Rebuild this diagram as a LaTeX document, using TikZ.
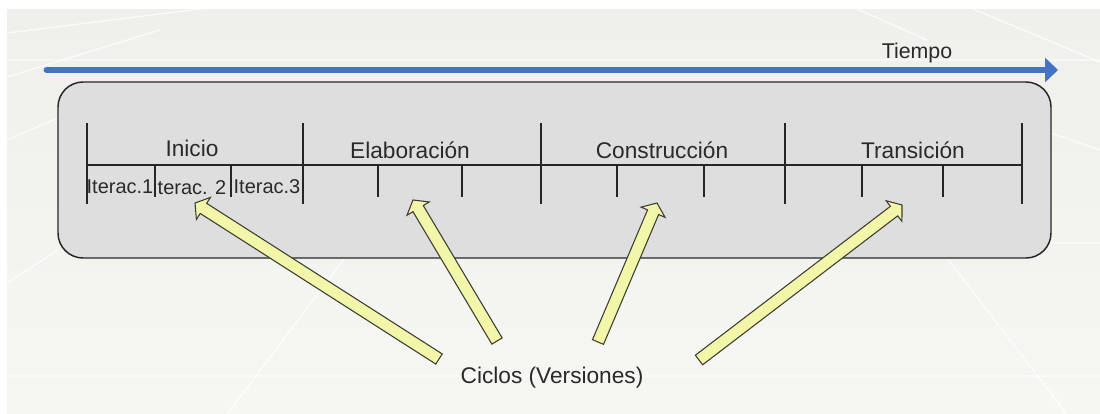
\documentclass[tikz,border=0pt]{standalone}
\usepackage{fontspec}
\setmainfont{Liberation Sans}
\usetikzlibrary{calc,arrows.meta}
\definecolor{bgtop}{RGB}{239,240,235}
\definecolor{bgbot}{RGB}{246,246,243}
\definecolor{boxfill}{RGB}{222,222,222}
\definecolor{timeblue}{RGB}{68,114,196}
\definecolor{arrowfill}{RGB}{242,246,168}
\definecolor{arrowline}{RGB}{60,60,50}
\definecolor{txt}{RGB}{42,42,42}
\tikzset{
  deco/.style={white, line width=1pt, opacity=0.75},
  phaselabel/.style={font=\fontsize{17pt}{19pt}\selectfont, text=txt, anchor=base, inner sep=0pt},
  iterlabel/.style={font=\fontsize{15pt}{17pt}\selectfont, text=txt, anchor=base, inner sep=0pt},
  major/.style={black!85, line width=1.1pt},
  minor/.style={black!85, line width=1.1pt},
  blockarrowstyle/.style={fill=arrowfill, draw=arrowline, line width=0.8pt, line join=miter},
}
\newcommand{\blockarr}[2]{%
  \path ($(#2)!7.5pt!(#1)$) coordinate (#1b);
  \draw[blockarrowstyle]
    ($(#1)!4.5pt!90:(#2)$) -- ($(#1b)!4.5pt!90:(#2)$) -- ($(#1b)!9.75pt!90:(#2)$)
    -- (#2) -- ($(#1b)!9.75pt!-90:(#2)$) -- ($(#1b)!4.5pt!-90:(#2)$)
    -- ($(#1)!4.5pt!-90:(#2)$) -- cycle;
}
\begin{document}
\begin{tikzpicture}[x=0.75pt,y=-0.75pt]
\useasboundingbox (0,0) rectangle (1100,414);
\fill[white] (0,0) rectangle (1100,414);
\shade[top color=bgtop, bottom color=bgbot] (7,9) rectangle (1100,413);
% faint background texture
\draw[deco] (7,33) -- (200,9);
\draw[deco] (7,77) -- (160,30);
\draw[deco] (7,140) -- (58,118);
\draw[deco] (7,283) -- (58,250);
\draw[deco] (228,413) -- (345,258);
\draw[deco] (947,258) -- (1066,413);
\draw[deco] (857,9) -- (927,40);
\draw[deco] (973,9) -- (1100,62);
\draw[deco] (1051,133) -- (1100,150);
\draw[deco, opacity=0.5] (7,60) -- (1100,60);
\draw[deco, opacity=0.5] (7,376) -- (1100,376);
\draw[deco, opacity=0.5] (1051,243) -- (1100,243);

% time arrow
\coordinate (tstart) at (47,70);
\coordinate (tend) at (1058,70);
\draw[timeblue, line width=5.2pt, line cap=round, -{Triangle[length=9.75pt,width=18pt]}] (tstart) -- (tend);
\node[font=\fontsize{16pt}{18pt}\selectfont, text=txt, anchor=base, inner sep=0pt] (tiempo) at (917,58) {Tiempo};

% box
\node[draw=black!85, fill=boxfill, line width=1.1pt, rounded corners=18.75pt,
      minimum width=744.75pt, minimum height=132pt, inner sep=0pt] (box) at (554.5,170) {};

% timeline
\coordinate (l0) at (87,165);
\coordinate (l1) at (1022,165);
\draw[major] (l0) -- (l1);
\foreach \x/\n in {87/a,303/b,541/c,785/d,1022/e}{
  \coordinate (M\n t) at (\x,123);
  \coordinate (M\n b) at (\x,204);
  \draw[major] (M\n t) -- (M\n b);
}
\foreach \x/\n in {155/a,231/b,378/c,462/d,617/e,704/f,862/g,943/h}{
  \coordinate (m\n t) at (\x,165);
  \coordinate (m\n b) at (\x,197);
  \draw[minor] (m\n t) -- (m\n b);
}
\node[phaselabel] (inicio) at (192,156) {Inicio};
\node[phaselabel] (elab) at (410,158) {Elaboración};
\node[phaselabel] (constr) at (662,158) {Construcción};
\node[phaselabel] (trans) at (913,158) {Transición};
\node[iterlabel] (it1) at (120,193) {Iterac.1};
\node[iterlabel] (it2) at (192,194) {terac. 2};
\node[iterlabel] (it3) at (267,193) {Iterac.3};

% cycle arrows
\coordinate (ta) at (439,359); \coordinate (pa) at (195,203);
\coordinate (tb) at (497,341); \coordinate (pb) at (413,200);
\coordinate (tc) at (598,342); \coordinate (pc) at (657,203);
\coordinate (td) at (699,360); \coordinate (pd) at (902,205);
\blockarr{ta}{pa}
\blockarr{tb}{pb}
\blockarr{tc}{pc}
\blockarr{td}{pd}

\node[phaselabel] (ciclos) at (552,383) {Ciclos (Versiones)};
\end{tikzpicture}
\end{document}
